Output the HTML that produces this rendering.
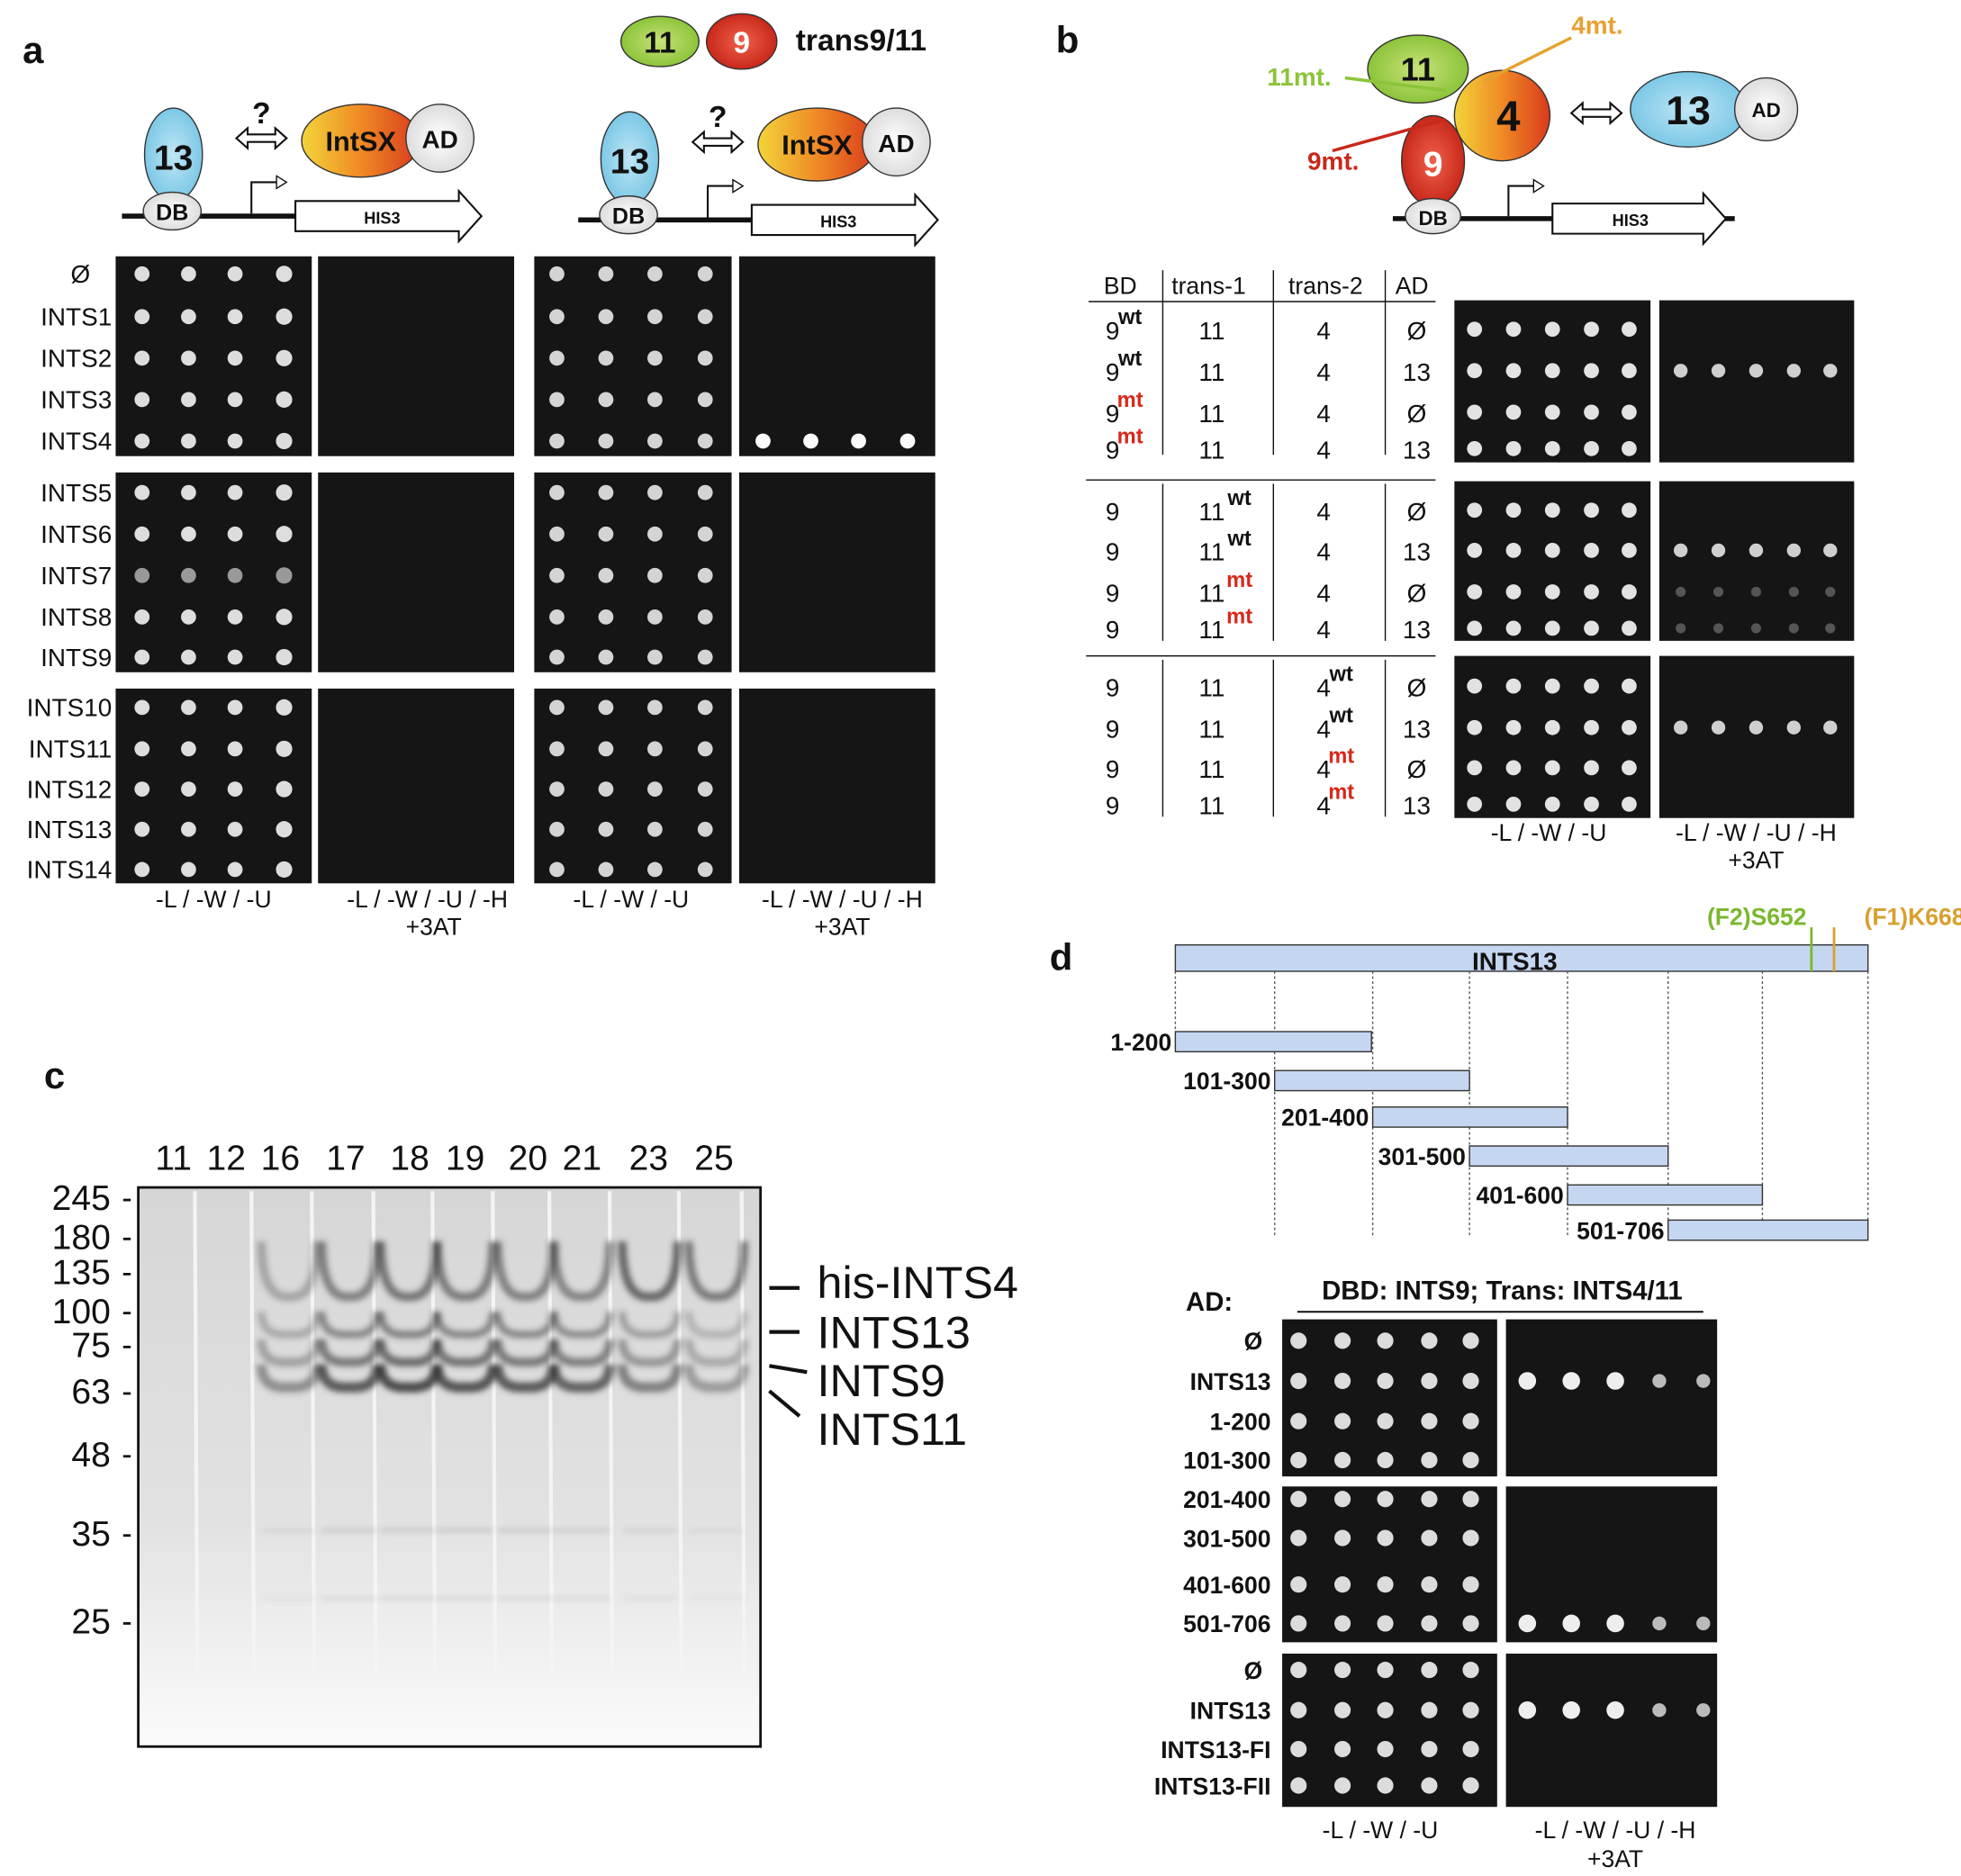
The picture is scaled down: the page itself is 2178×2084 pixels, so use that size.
<!DOCTYPE html>
<html><head><meta charset="utf-8"><style>
html,body{margin:0;padding:0;background:#fff}
svg{display:block}
text{font-family:"Liberation Sans",Arial,sans-serif}
</style></head><body>
<svg id="s" width="2178" height="2084" viewBox="0 0 1560 1493" preserveAspectRatio="none" xmlns="http://www.w3.org/2000/svg">
<defs>
<linearGradient id="og" x1="0" x2="1"><stop offset="0" stop-color="#f2d43a"/><stop offset="0.5" stop-color="#f08a25"/><stop offset="1" stop-color="#d83a1c"/></linearGradient>
<radialGradient id="cy"><stop offset="0" stop-color="#bfe6f5"/><stop offset="1" stop-color="#7cc8e6"/></radialGradient>
<radialGradient id="gr"><stop offset="0" stop-color="#c8e27a"/><stop offset="1" stop-color="#8cc43a"/></radialGradient>
<radialGradient id="rd"><stop offset="0" stop-color="#f0604a"/><stop offset="1" stop-color="#c8281a"/></radialGradient>
<radialGradient id="wh"><stop offset="0" stop-color="#fff"/><stop offset="1" stop-color="#ddd"/></radialGradient>
<linearGradient id="gel" x1="0" y1="0" x2="0" y2="1"><stop offset="0" stop-color="#d6d6d6"/><stop offset="0.6" stop-color="#e2e2e2"/><stop offset="1" stop-color="#fbfbfb"/></linearGradient>
<filter id="bl" x="-20%" y="-50%" width="140%" height="200%"><feGaussianBlur stdDeviation="2.2"/></filter>
</defs>
<g id="g"></g>
</svg>
<script>
const g=document.getElementById('g');let h='';
const T=(x,y,t,o={})=>{h+=`<text x="${x}" y="${y}" font-size="${o.fs||20}" fill="${o.c||'#111'}" text-anchor="${o.a||'start'}" font-weight="${o.w||'normal'}">${t}</text>`};
const R=(x,y,w,hh,f,st='')=>{h+=`<rect x="${x}" y="${y}" width="${w}" height="${hh}" fill="${f}" ${st}/>`};
const C=(x,y,r,f,o=1)=>{h+=`<circle cx="${x}" cy="${y}" r="${r}" fill="${f}" opacity="${o}"/>`};
const L=(x1,y1,x2,y2,c='#111',w=1.5,e='')=>{h+=`<line x1="${x1}" y1="${y1}" x2="${x2}" y2="${y2}" stroke="${c}" stroke-width="${w}" ${e}/>`};
const E=(x,y,rx,ry,f)=>{h+=`<ellipse cx="${x}" cy="${y}" rx="${rx}" ry="${ry}" fill="${f}" stroke="#333" stroke-width="1"/>`};
const DA=(x,y)=>{h+=`<path d="M${x-20},${y} l9,-8 v5 h22 v-5 l9,8 l-9,8 v-5 h-22 v5 z" fill="#fff" stroke="#111" stroke-width="1.5"/>`};
T(18,50,'a',{fs:30,w:'bold'});T(840,42,'b',{fs:30,w:'bold'});T(35,866,'c',{fs:30,w:'bold'});T(835,772,'d',{fs:30,w:'bold'});
function dia(dx,dy){
 L(97+dx,172+dy,235+dx,172+dy,'#111',4);
 h+=`<path d="M${235+dx},${160+dy} h130 v-8 l18,20 l-18,20 v-8 h-130 z" fill="#fff" stroke="#111" stroke-width="1.5"/>`;
 T(304+dx,178+dy,'HIS3',{fs:13,a:'middle',w:'bold'});
 h+=`<path d="M${200+dx},${170+dy} v-25 h22" fill="none" stroke="#111" stroke-width="1.5"/><path d="M${220+dx},${140+dy} l8,5 l-8,5z" fill="#fff" stroke="#111"/>`;
 E(138+dx,123+dy,23,37,'url(#cy)');T(138+dx,135+dy,'13',{fs:28,a:'middle',w:'bold'});
 E(137+dx,168+dy,23,15,'url(#wh)');T(137+dx,175+dy,'DB',{fs:18,a:'middle',w:'bold'});
 DA(208+dx,110+dy);
 T(208+dx,98+dy,'?',{fs:24,a:'middle',w:'bold'});
 E(287+dx,112+dy,47,29,'url(#og)');T(287+dx,120+dy,'IntSX',{fs:22,a:'middle',w:'bold'});
 E(350+dx,110+dy,27,27,'url(#wh)');T(350+dx,118+dy,'AD',{fs:20,a:'middle',w:'bold'});
}
dia(0,0);dia(363,3);
E(525,33,31,20,'url(#gr)');T(525,42,'11',{fs:24,a:'middle',w:'bold'});
E(590,33,28,22,'url(#rd)');T(590,42,'9',{fs:24,a:'middle',w:'bold',c:'#fff'});
T(633,40,'trans9/11',{fs:24,w:'bold'});
function spots(xs,ys,cfg){ys.forEach((y,i)=>xs.forEach((x,j)=>{const v=cfg(i,j);if(v)C(x,y,v[0],v[1],v[2]||1)}));}
const blocks=[[204,159,[218,252,285,318,351]],[376,159,[392,425,458,491,523]],[548,155,[563,596,628,660,692]]];
blocks.forEach((b,k)=>{
 R(92,b[0],156,b[1],'#151515');R(253,b[0],156,b[1],'#151515');R(425,b[0],157,b[1],'#151515');R(588,b[0],156,b[1],'#151515');
 spots([113,150,187,226],b[2],(i,j)=>[j==3?6.5:6,(k==1&&i==2)?'#999':'#ddd']);
 spots([443,482,521,561],b[2],(i,j)=>[6,'#d4d4d4']);
 if(k==0)spots([607,645,683,722],[351],()=>[6,'#fafafa']);
});
const la=['Ø','INTS1','INTS2','INTS3','INTS4','INTS5','INTS6','INTS7','INTS8','INTS9','INTS10','INTS11','INTS12','INTS13','INTS14'];
const ya=[218,252,285,318,351,392,425,458,491,523,563,596,628,660,692];
la.forEach((t,i)=>T(i==0?64:89,ya[i]+7,t,{fs:20,a:i==0?'middle':'end'}));
[[170,'-L / -W / -U'],[340,'-L / -W / -U / -H'],[502,'-L / -W / -U'],[670,'-L / -W / -U / -H']].forEach(p=>T(p[0],722,p[1],{fs:19,a:'middle'}));
T(345,744,'+3AT',{fs:19,a:'middle'});T(670,744,'+3AT',{fs:19,a:'middle'});
// b diagram
L(1108,174,1380,174,'#111',4);
h+=`<path d="M1235,162 h120 v-8 l18,20 l-18,20 v-8 h-120 z" fill="#fff" stroke="#111" stroke-width="1.5"/>`;T(1297,180,'HIS3',{fs:13,a:'middle',w:'bold'});
h+=`<path d="M1200,172 v-24 h22" fill="none" stroke="#111" stroke-width="1.5"/><path d="M1220,143 l8,5 l-8,5z" fill="#fff" stroke="#111"/>`;
E(1195,92,38,36,'url(#og)');T(1200,104,'4',{fs:34,a:'middle',w:'bold'});
E(1128,55,40,27,'url(#gr)');T(1128,64,'11',{fs:26,a:'middle',w:'bold'});
E(1140,128,25,36,'url(#rd)');T(1140,140,'9',{fs:28,a:'middle',w:'bold',c:'#fff'});
E(1140,172,22,14,'url(#wh)');T(1140,179,'DB',{fs:16,a:'middle',w:'bold'});
E(1343,87,46,30,'url(#cy)');T(1343,99,'13',{fs:32,a:'middle',w:'bold'});
E(1405,87,25,25,'url(#wh)');T(1405,93,'AD',{fs:16,a:'middle',w:'bold'});
DA(1270,90);
L(1070,62,1150,72,'#8cc43a',2.5);L(1250,30,1180,65,'#e8a030',2.5);L(1060,120,1150,95,'#c8281a',2.5);
T(1008,68,'11mt.',{fs:20,c:'#8cc43a',w:'bold'});T(1250,27,'4mt.',{fs:20,c:'#e8a030',w:'bold'});T(1040,135,'9mt.',{fs:20,c:'#c8281a',w:'bold'});
[[878,'BD'],[932,'trans-1'],[1025,'trans-2'],[1110,'AD']].forEach(p=>T(p[0],234,p[1],{fs:19}));
L(866,240,1142,240,'#111',1);L(864,382,1142,382,'#111',1);L(864,522,1142,522,'#111',1);
[925,1013,1102].forEach(x=>{L(x,215,x,362,'#111',1);L(x,385,x,510,'#111',1);L(x,525,x,650,'#111',1)});
const rb=[262,295,328,357,406,438,471,500,546,579,611,640];
rb.forEach((y,i)=>{const blk=Math.floor(i/4),r=i%4,sup=r<2?'wt':'mt',sc=r<2?'#111':'#d8281a',ad=r%2?'13':'Ø';
 const cell=(x,base,has)=>{T(x,y+8,base,{fs:20,a:'middle'});if(has)T(x+(base.length>1?22:14),y-4,sup,{fs:17,c:sc,w:'bold',a:'middle'});};
 cell(885,'9',blk==0);cell(964,'11',blk==1);cell(1053,'4',blk==2);T(1127,y+8,ad,{fs:20,a:'middle'});
});
[[239,129],[383,127],[522,129]].forEach((b,k)=>{R(1157,b[0],156,b[1],'#151515');R(1320,b[0],155,b[1],'#151515');
 const ys=rb.slice(k*4,k*4+4);spots([1173,1204,1235,1266,1296],ys,()=>[6,'#e2e2e2']);
 spots([1337,1367,1397,1427,1456],[ys[1]],(i,j)=>[5.5,'#cfcfcf']);
 if(k==1)spots([1337,1367,1397,1427,1456],[ys[2],ys[3]],()=>[4,'#555']);
});
T(1232,669,'-L / -W / -U',{fs:19,a:'middle'});T(1397,669,'-L / -W / -U / -H',{fs:19,a:'middle'});T(1397,691,'+3AT',{fs:19,a:'middle'});
// gel
R(110,945,495,445,'url(#gel)','stroke="#111" stroke-width="2"');
[[138,'11'],[180,'12'],[223,'16'],[275,'17'],[326,'18'],[370,'19'],[420,'20'],[463,'21'],[516,'23'],[568,'25']].forEach(p=>T(p[0],931,p[1],{fs:28,a:'middle'}));
[[245,960],[180,991],[135,1019],[100,1050],[75,1077],[63,1114],[48,1164],[35,1227],[25,1297]].forEach(p=>{T(88,p[1]+3,p[0],{fs:28,a:'end'});L(98,p[1]-5,104,p[1]-5,'#111',2)});
[155,200,248,297,344,392,437,485,540,590].forEach(x=>L(x,948,x+2,1330,'#f4f4f4',3));
const lanes=[[230,0.55],[278,0.9],[325,1],[370,0.95],[418,0.9],[463,0.85],[517,0.65],[570,0.45]];
h+='<g filter="url(#bl)">';
lanes.forEach(([x,o],i)=>{const w=44;
 const bd=(y,op,th,d=14)=>{h+=`<path d="M${x-w/2},${y-d} Q${x-w/2},${y+6} ${x},${y+4} Q${x+w/2},${y+6} ${x+w/2},${y-d}" stroke="#333" stroke-width="${th}" fill="none" opacity="${op}"/>`};
 bd(1028,Math.min(1,o*0.6+(i>=6?0.3:0)),7,40);bd(1058,o*0.55,6);bd(1080,o*0.65,7);bd(1100,o*0.85,8);
 L(x-w/2,1218,x+w/2,1218,'#888',2,`opacity="${o*0.5}"`);L(x-w/2,1272,x+w/2,1272,'#999',2,`opacity="${o*0.4}"`);
});
h+='</g>';
L(612,1025,636,1025,'#111',3);L(612,1060,636,1060,'#111',3);L(612,1087,642,1092,'#111',3);L(612,1107,636,1127,'#111',3);
T(650,1033,'his-INTS4',{fs:36});T(650,1073,'INTS13',{fs:36});T(650,1111,'INTS9',{fs:36});T(650,1150,'INTS11',{fs:36});
// d
R(935,752,551,21,'#c5d6f0','stroke="#333" stroke-width="1"');T(1205,772,'INTS13',{fs:20,w:'bold',a:'middle'});
L(1441,738,1441,773,'#7ab82e',2);L(1459,738,1459,773,'#d8a030',2);
T(1358,736,'(F2)S652',{fs:19,c:'#7ab82e',w:'bold'});T(1483,736,'(F1)K668',{fs:19,c:'#d8a030',w:'bold'});
const fr=[['1-200',935,1091,821],['101-300',1014,1169,852],['201-400',1092,1247,881],['301-500',1169,1327,912],['401-600',1247,1402,943],['501-706',1327,1486,971]];
[935,1014,1092,1169,1247,1327,1402,1486].forEach(x=>L(x,773,x,x==935?821:(x==1486?971:985),'#555',1,'stroke-dasharray="2,2"'));
fr.forEach(f=>{R(f[1],f[3],f[2]-f[1],16,'#c5d6f0','stroke="#333" stroke-width="1"');T(f[1]-3,f[3]+15,f[0],{fs:19,w:'bold',a:'end'})});
T(962,1043,'AD:',{fs:21,w:'bold',a:'middle'});T(1195,1034,'DBD: INTS9; Trans: INTS4/11',{fs:21,w:'bold',a:'middle'});L(1032,1044,1355,1044,'#111',1.5);
const dr=[[1050,125,[1067,1099,1131,1162]],[1183,124,[1193,1224,1261,1292]],[1316,122,[1329,1361,1392,1421]]];
const dl=[['Ø','INTS13','1-200','101-300'],['201-400','301-500','401-600','501-706'],['Ø','INTS13','INTS13-FI','INTS13-FII']];
dr.forEach((b,k)=>{R(1020,b[0],171,b[1],'#151515');R(1198,b[0],168,b[1],'#151515');
 spots([1033,1068,1102,1137,1170],b[2],()=>[6.5,'#dcdcdc']);
 const pos=k==0?1:(k==1?3:1);spots([1215,1250,1285,1320,1355],[b[2][pos]],(i,j)=>[j<3?7:5.5,j<3?'#eee':'#bbb']);
 dl[k].forEach((t,i)=>T(t=='Ø'?997:1011,b[2][i]+7,t,{fs:19,w:'bold',a:t=='Ø'?'middle':'end'}));
});
T(1098,1463,'-L / -W / -U',{fs:19,a:'middle'});T(1285,1463,'-L / -W / -U / -H',{fs:19,a:'middle'});T(1285,1486,'+3AT',{fs:19,a:'middle'});
g.innerHTML=h;
</script>
</body></html>
